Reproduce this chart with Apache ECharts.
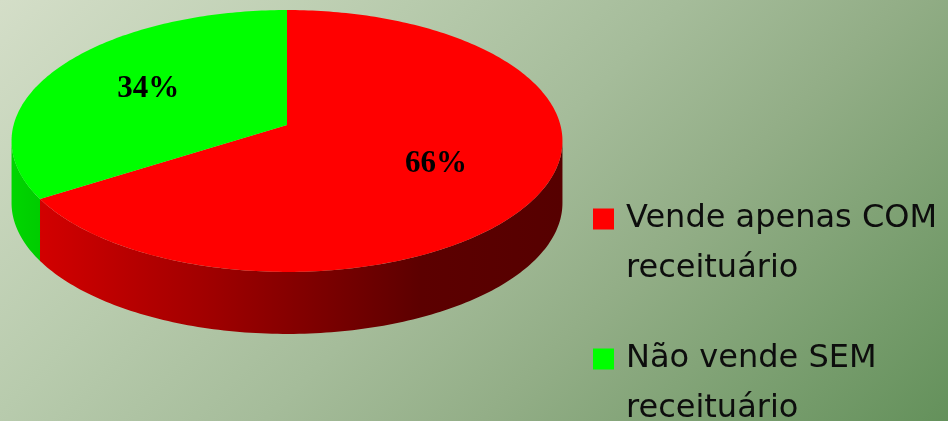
<!DOCTYPE html>
<html><head><meta charset="utf-8">
<script src="https://cdn.jsdelivr.net/npm/echarts@6/dist/echarts.min.js"></script>
<style>html,body{margin:0;padding:0;overflow:hidden;background:#fff}#c{width:948px;height:421px}</style>
</head><body><div id="c"></div>
<script>
// ---- data ----
const categories = ['Vende apenas COM receituário', 'Não vende SEM receituário'];
const values = [66, 34];

// ---- styles ----
const topColors = ['#ff0000', '#00ff00'];
const sideStops = [
  [{offset:0,color:'#d20000'},{offset:0.31,color:'#a20000'},{offset:0.56,color:'#780000'},{offset:0.73,color:'#5c0000'},{offset:1,color:'#560000'}],
  [{offset:0,color:'#00d600'},{offset:1,color:'#00cc00'}]
];

// ---- layout (projected tilted disc) ----
const CX = 287, CY = 125, RX = 273.4, RY = 129, K = 0.122, DEPTH = 62, LABEL_R = 0.6;
const total = values.reduce((s, v) => s + v, 0);
const starts = [];
{ let acc = 0; values.forEach(v => { starts.push(acc / total * 360); acc += v; }); }

function proj(aDeg, r) {
  const a = aDeg * Math.PI / 180;
  const u = r * Math.sin(a), v = -r * Math.cos(a);
  const d = 1 - K * v;
  return [CX + RX * u / d, CY + RY * v / d];
}
const FRONT0 = 90 + Math.asin(K) * 180 / Math.PI, FRONT1 = 360 - FRONT0;

function renderSlice(idx) {
  return function (params, api) {
    const a0 = starts[idx], a1 = a0 + values[idx] / total * 360;
    const children = [];
    const s0 = Math.max(a0, FRONT0), s1 = Math.min(a1, FRONT1);
    if (s1 > s0) {
      const rim = [];
      const n = Math.max(2, Math.ceil(s1 - s0));
      for (let i = 0; i <= n; i++) rim.push(proj(s0 + (s1 - s0) * i / n, 1));
      const pts = rim.concat(rim.slice().reverse().map(p => [p[0], p[1] + DEPTH]));
      children.push({type: 'polygon', shape: {points: pts}, z2: 1,
        style: {fill: {type: 'linear', x: 0, y: 0, x2: 1, y2: 0, colorStops: sideStops[idx]}}});
    }
    const top = [proj(0, 0)];
    const n2 = Math.max(2, Math.ceil(a1 - a0));
    for (let i = 0; i <= n2; i++) top.push(proj(a0 + (a1 - a0) * i / n2, 1));
    children.push({type: 'polygon', shape: {points: top}, z2: 2, style: {fill: topColors[idx]}});
    const lp = proj((a0 + a1) / 2, LABEL_R);
    children.push({type: 'text', x: lp[0], y: lp[1], z2: 3,
      style: {text: Math.round(values[idx] / total * 100) + '%', font: 'bold 31px "Liberation Serif"',
        fill: '#000', align: 'center', verticalAlign: 'middle'}});
    return {type: 'group', children};
  };
}

const chart = echarts.init(document.getElementById('c'), null, {renderer: 'canvas'});
chart.setOption({
  animation: false,
  backgroundColor: {type: 'linear', x: 0, y: 0, x2: 684.5 / 948, y2: 684.5 / 421, colorStops: [
    {offset: 0, color: '#d4dec8'}, {offset: 0.3, color: '#b8cbad'}, {offset: 0.5, color: '#a5bc9a'},
    {offset: 0.66, color: '#93ae87'}, {offset: 1, color: '#64915b'}]},
  legend: {
    orient: 'vertical', left: 593, top: 144, height: 400, padding: 0, itemGap: -10,
    icon: 'rect', itemWidth: 21, itemHeight: 21, selectedMode: false,
    data: categories,
    formatter: n => '\n' + n.replace(' receituário', '\nreceituário'),
    textStyle: {fontFamily: '"DejaVu Sans"', fontSize: 32, color: '#0d0d0d', lineHeight: 50, padding: [0, 0, 0, 7]}
  },
  series: categories.map((name, i) => ({
    type: 'custom', name, coordinateSystem: 'none', silent: true,
    itemStyle: {color: topColors[i]},
    renderItem: renderSlice(i),
    data: [[values[i]]]
  }))
});
</script></body></html>
